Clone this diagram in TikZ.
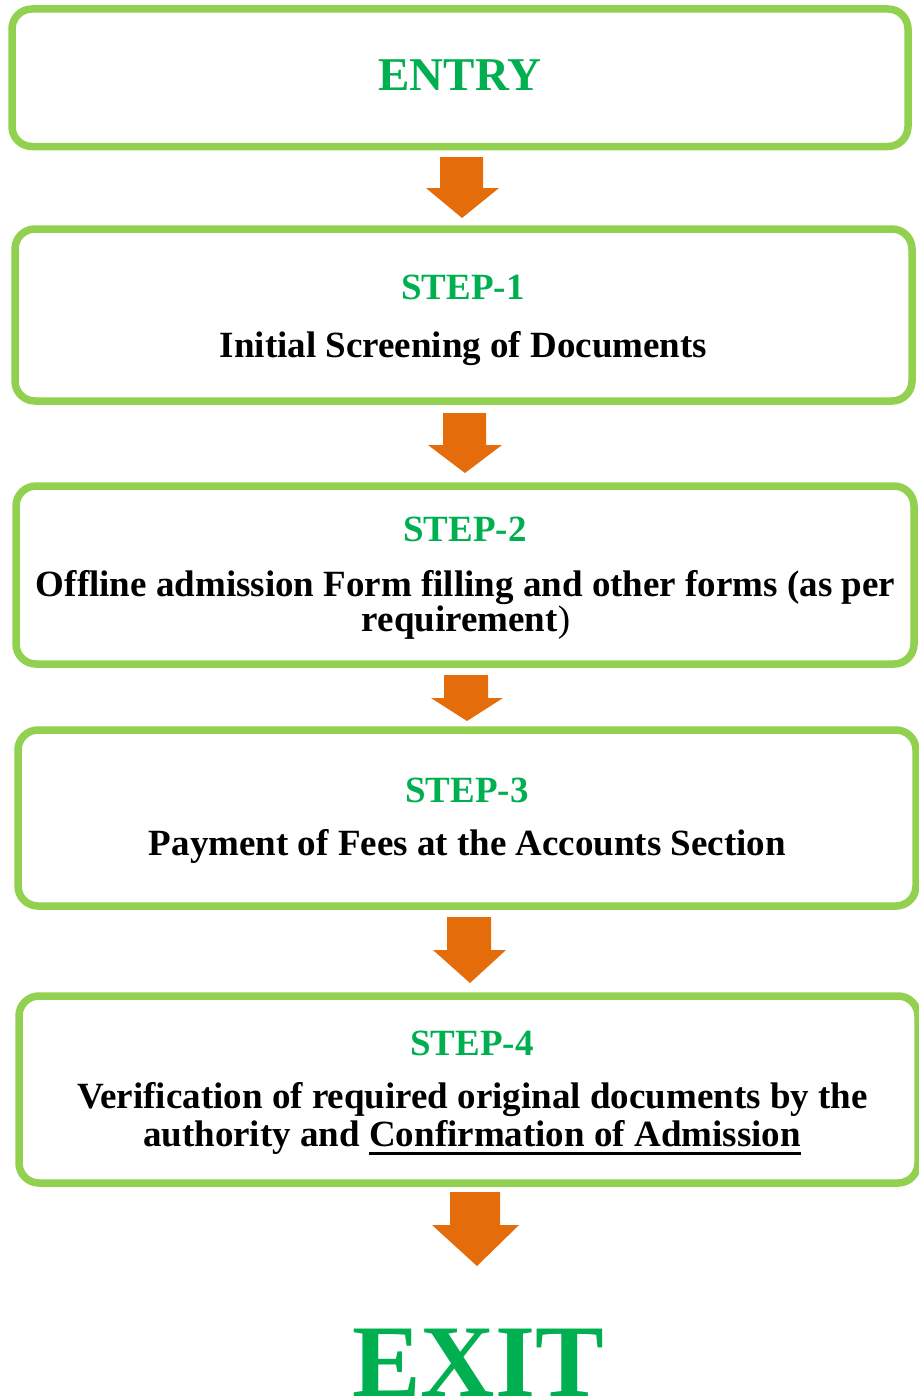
\documentclass[tikz,border=0pt]{standalone}
\usepackage{fontspec}
\setmainfont{Liberation Serif}
\newcommand\myul[1]{\setbox0\hbox{#1}\rlap{\vrule height -5.5pt depth 8.5pt width \wd0}\box0}
\definecolor{boxgreen}{HTML}{92D050}
\definecolor{txtgreen}{HTML}{00B050}
\definecolor{arrorange}{HTML}{E46C0A}
\tikzset{
  stepbox/.style={draw=boxgreen, line width=7.5pt, rounded corners=20pt, inner sep=0pt, fill=white},
  steptitle/.style={anchor=base, text=txtgreen, inner sep=0pt, font=\bfseries\fontsize{37}{37}\selectfont},
  steptext/.style={anchor=base, text=black, inner sep=0pt, font=\bfseries\fontsize{37}{37}\selectfont},
  flowarrow/.style={fill=arrorange, draw=none}
}
\begin{document}
\begin{tikzpicture}[x=1pt, y=-1pt]
\useasboundingbox (0,0) rectangle (918,1397);

% boxes
\node[stepbox, minimum width=896pt, minimum height=137.5pt] (b0) at (460,77.75) {};
\node[stepbox, minimum width=897pt, minimum height=172pt] (b1) at (463.5,315) {};
\node[stepbox, minimum width=898pt, minimum height=178pt] (b2) at (465,575) {};
\node[stepbox, minimum width=898pt, minimum height=176pt] (b3) at (467,818) {};
\node[stepbox, minimum width=899pt, minimum height=187pt] (b4) at (468.5,1089.5) {};

% texts
\node[steptitle, font=\bfseries\fontsize{47}{47}\selectfont] (t0) at (460,90) {ENTRY};
\node[steptitle] (t1) at (463,299) {STEP-1};
\node[steptext] (l1) at (463.5,357) {Initial Screening of Documents};
\node[steptitle] (t2) at (465,541.5) {STEP-2};
\node[steptext] (l2a) at (465.5,596.5) {Offline admission Form filling and other forms (as per};
\node[steptext] (l2b) at (466,631.5) {requirement{\mdseries)}};
\node[steptitle] (t3) at (467,802) {STEP-3};
\node[steptext] (l3) at (467.5,855) {Payment of Fees at the Accounts Section};
\node[steptitle] (t4) at (472,1055) {STEP-4};
\node[steptext] (l4a) at (472.5,1108) {Verification of required original documents by the};
\node[steptext] (l4b) at (472,1146.5) {authority and \myul{Confirmation of Admission}};
\node[steptitle, font=\bfseries\fontsize{103}{103}\selectfont] (exit) at (478,1396) {EXIT};

% arrows
\fill[flowarrow] (440,157) -- (483,157) -- (483,188) -- (499,188) -- (462,218) -- (426,188) -- (440,188) -- cycle;
\fill[flowarrow] (443,413) -- (486,413) -- (486,445) -- (502,445) -- (465,473) -- (428,445) -- (443,445) -- cycle;
\fill[flowarrow] (444,675) -- (488,675) -- (488,698) -- (503,698) -- (467,721) -- (431,698) -- (444,698) -- cycle;
\fill[flowarrow] (447,917) -- (491,917) -- (491,950) -- (506,950) -- (470,983) -- (433,950) -- (447,950) -- cycle;
\fill[flowarrow] (450,1192) -- (500,1192) -- (500,1225) -- (519,1225) -- (477,1266) -- (432,1225) -- (450,1225) -- cycle;
\end{tikzpicture}
\end{document}
